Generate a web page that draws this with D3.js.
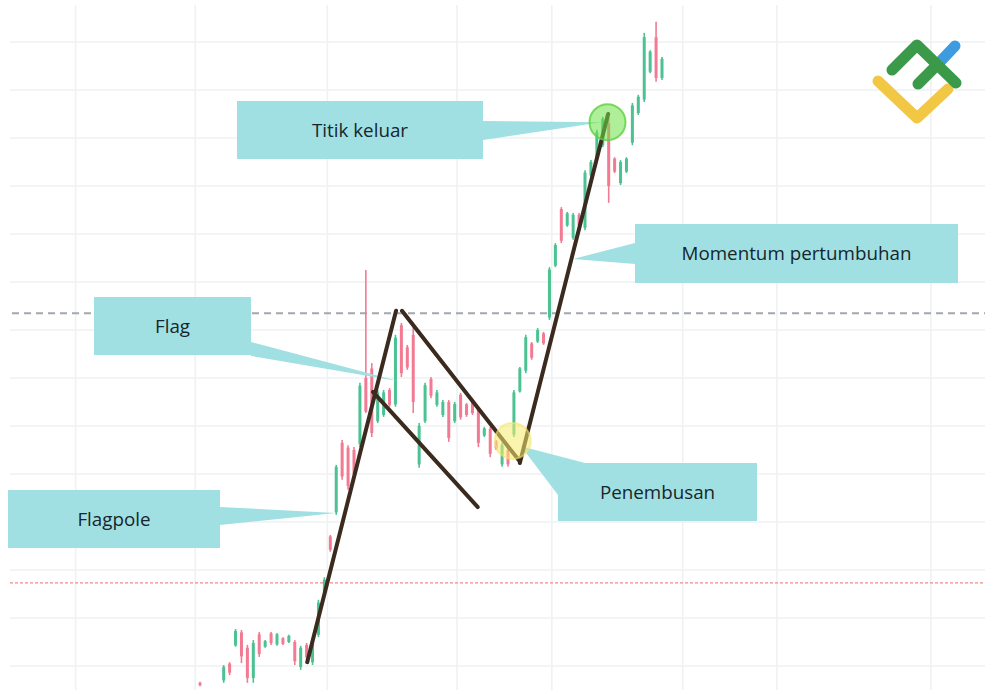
<!DOCTYPE html>
<html><head><meta charset="utf-8">
<script src="https://cdn.jsdelivr.net/npm/d3@7/dist/d3.min.js"></script>
<style>html,body{margin:0;padding:0;background:#fff;}svg{display:block;}</style>
</head><body><svg id="c" width="1000" height="694"></svg>
<script>
// ---- data ----
const candleIndex = [0,4,5,6,7,8,9,10,11,12,13,14,15,16,17,18,19,20,21,22,23,24,25,26,27,28,29,30,31,32,33,34,35,36,37,38,39,40,41,42,43,44,45,46,47,48,49,50,51,52,53,54,55,56,57,58,59,60,61,62,63,64,65,66,67,68,69,70,71,72,73,74,75,76,77,78];
const candleOpen  = [96.5,97.0,100.5,104.3,107.0,103.8,97.5,106.6,104.0,106.8,104.5,105.8,105.0,105.0,99.8,104.4,100.8,106.5,115.5,127.0,132.0,146.5,145.5,145.0,146.2,160.0,162.0,151.0,152.3,157.5,154.5,171.0,166.4,169.0,142.0,151.0,159.8,154.4,152.3,155.0,151.0,156.5,154.5,155.4,153.5,148.0,149.4,146.8,142.0,145.0,148.2,157.2,161.5,167.2,167.6,169.3,172.6,183.4,195.2,191.8,189.2,194.0,191.3,202.2,205.8,208.5,213.0,205.7,200.6,203.0,209.0,215.2,218.0,223.8,231.0,222.5];
const candleClose = [96.0,99.8,98.6,107.3,102.0,97.5,104.8,102.5,105.2,104.8,106.6,104.6,106.3,101.0,103.8,101.8,105.0,113.2,118.0,124.2,141.5,139.5,137.5,140.0,158.4,153.0,148.5,157.0,157.0,154.4,168.4,161.0,162.2,155.0,150.0,158.5,156.3,157.0,155.0,147.5,154.6,151.8,152.3,152.7,146.5,149.5,144.2,145.3,146.0,142.0,157.0,162.0,168.5,164.2,170.0,167.2,182.6,187.7,188.6,194.3,194.0,191.8,202.8,205.0,211.2,214.0,200.0,203.0,205.0,205.7,216.8,218.6,231.0,228.0,222.5,226.5];
const candleHigh  = [96.7,100.2,100.8,107.7,107.5,104.4,105.4,107.1,105.4,107.1,106.9,106.0,106.5,105.4,104.2,104.8,105.4,113.8,118.5,127.3,141.9,147.1,146.0,145.6,159.0,182.5,163.1,157.5,157.5,157.9,169.0,171.5,166.9,170.6,150.6,159.0,160.2,157.5,155.4,155.4,155.0,156.9,154.8,155.8,154.0,149.8,149.8,147.1,146.5,145.4,157.5,162.3,169.0,167.5,170.4,169.6,183.1,188.1,195.6,194.6,194.4,194.4,203.3,205.4,211.7,214.4,214.4,206.0,205.4,206.0,217.3,219.0,231.9,228.3,234.2,226.9];
const candleLow   = [95.8,96.5,98.1,104.0,100.6,96.5,96.5,101.9,103.8,104.4,104.2,104.4,104.8,100.2,99.2,101.3,100.2,106.0,115.2,123.8,131.5,138.8,136.7,139.4,145.6,152.7,147.7,150.6,151.9,154.0,154.0,160.2,161.7,152.7,141.3,150.6,155.8,154.0,151.9,146.7,150.6,151.3,151.9,152.3,145.6,147.7,143.5,145.0,141.5,141.5,147.7,157.0,161.0,163.8,167.3,166.9,172.1,183.1,188.1,191.5,188.8,191.5,190.8,201.9,205.4,208.1,196.5,202.7,200.2,202.7,208.5,214.8,217.5,223.5,221.7,222.1];

const priceTicks = [100,110,120,130,140,150,160,170,180,190,200,210,220,230];
const timeGrid = [-21,-0.8,21.5,43.4,59.4,81.5,97.4,123.4];
const resistanceLevel = 173.5;
const supportLevel = 117.3;

const trendLines = [
  {name:"flagpole", from:[18.1,100.8], to:[33.1,174.0]},
  {name:"flagTop",  from:[34.1,174.0], to:[54.0,142.6]},
  {name:"flagBottom", from:[29.2,157.1], to:[46.9,133.1]},
  {name:"momentum", from:[54.0,142.3], to:[68.9,215.0]}
];
const markers = [
  {name:"exit", at:[68.8,213.3], fill:"rgba(110,225,70,0.55)", stroke:"rgba(90,210,60,0.8)"},
  {name:"breakout", at:[52.8,146.9], fill:"rgba(245,235,110,0.55)", stroke:"rgba(245,230,110,0.6)"}
];
const calloutLabels = ["Titik keluar","Momentum pertumbuhan","Flag","Flagpole","Penembusan"];
const calloutTips = [[67.8,213.3],[63.0,184.8],[33.4,159.4],[22.95,131.9],[54.2,145.8]];

// ---- chart ----
const svg = d3.select("#c");
const x = d3.scaleLinear().domain([0,78]).range([200,662]);
const y = d3.scaleLinear().domain([100,230]).range([666,42]);

const grid = svg.append("g");
grid.selectAll("line.h").data(priceTicks).join("line")
  .attr("x1",10).attr("x2",985).attr("y1",d=>y(d)).attr("y2",d=>y(d))
  .attr("stroke","#eff1f3").attr("stroke-width",1.6);
grid.selectAll("line.v").data(timeGrid).join("line")
  .attr("y1",5).attr("y2",690).attr("x1",d=>x(d)).attr("x2",d=>x(d))
  .attr("stroke","#eff1f3").attr("stroke-width",1.6);

svg.append("line").attr("x1",12).attr("x2",985)
  .attr("y1",y(resistanceLevel)).attr("y2",y(resistanceLevel))
  .attr("stroke","#a3a8b0").attr("stroke-width",2).attr("stroke-dasharray","7 5");
svg.append("line").attr("x1",10).attr("x2",985)
  .attr("y1",y(supportLevel)).attr("y2",y(supportLevel))
  .attr("stroke","#f08a8a").attr("stroke-width",1.2).attr("stroke-dasharray","3 2");

const candles = candleIndex.map((i,k)=>({i,o:candleOpen[k],c:candleClose[k],h:candleHigh[k],l:candleLow[k]}));
const up = "#4cc293", dn = "#f27b93";
const cg = svg.append("g");
cg.selectAll("line").data(candles).join("line")
  .attr("x1",d=>x(d.i)).attr("x2",d=>x(d.i)).attr("y1",d=>y(d.h)).attr("y2",d=>y(d.l))
  .attr("stroke",d=>d.c>=d.o?up:dn).attr("stroke-width",1.6);
cg.selectAll("rect").data(candles).join("rect")
  .attr("x",d=>x(d.i)-1.5).attr("width",3)
  .attr("y",d=>y(Math.max(d.o,d.c))).attr("height",d=>Math.max(1,Math.abs(y(d.o)-y(d.c))))
  .attr("fill",d=>d.c>=d.o?up:dn);

// callouts
const teal = "#a0e0e3";
const callouts = [
  {t:calloutLabels[0], box:[237,101,483,159], base:[[483,121],[483,140]], tip:calloutTips[0]},
  {t:calloutLabels[1], box:[635,224,958,283], base:[[635,243],[635,264]], tip:calloutTips[1]},
  {t:calloutLabels[2], box:[94,297,251,355], base:[[251,342],[251,356]], tip:calloutTips[2]},
  {t:calloutLabels[3], box:[8,490,220,548], base:[[220,507],[220,525]], tip:calloutTips[3]},
  {t:calloutLabels[4], box:[558,463,757,521], base:[[585,463],[558,495]], tip:calloutTips[4]}
];
const cog = svg.append("g");
callouts.forEach(c=>{
  cog.append("path")
    .attr("d",`M${c.base[0][0]},${c.base[0][1]}L${x(c.tip[0])},${y(c.tip[1])}L${c.base[1][0]},${c.base[1][1]}Z`)
    .attr("fill",teal);
});
callouts.forEach(c=>{
  cog.append("rect").attr("x",c.box[0]).attr("y",c.box[1])
    .attr("width",c.box[2]-c.box[0]).attr("height",c.box[3]-c.box[1]).attr("fill",teal);
});

// trend lines
svg.append("g").selectAll("line").data(trendLines).join("line")
  .attr("x1",d=>x(d.from[0])).attr("y1",d=>y(d.from[1]))
  .attr("x2",d=>x(d.to[0])).attr("y2",d=>y(d.to[1]))
  .attr("stroke","#3b2b1f").attr("stroke-width",4).attr("stroke-linecap","round");

// markers
svg.append("g").selectAll("circle").data(markers).join("circle")
  .attr("cx",d=>x(d.at[0])).attr("cy",d=>y(d.at[1])).attr("r",18)
  .attr("fill",d=>d.fill).attr("stroke",d=>d.stroke).attr("stroke-width",2);

// callout text
svg.append("g").selectAll("text").data(callouts).join("text")
  .attr("x",d=>(d.box[0]+d.box[2])/2).attr("y",d=>(d.box[1]+d.box[3])/2+6.5)
  .attr("text-anchor","middle").attr("font-family","'Open Sans', sans-serif")
  .attr("font-size",18.8).attr("fill","#17252c").text(d=>d.t);

// logo
const logo = svg.append("g").attr("fill","none").attr("stroke-linecap","round").attr("stroke-linejoin","round").attr("stroke-width",11);
logo.append("path").attr("d","M878,81L917,118L948,89").attr("stroke","#f2c744");
logo.append("path").attr("d","M937,65L955,46").attr("stroke","#3d9be0");
logo.append("path").attr("d","M892,70L917,45L956,83").attr("stroke","#3a9a4a");
logo.append("path").attr("d","M918,84L937,65").attr("stroke","#3a9a4a");
</script></body></html>
